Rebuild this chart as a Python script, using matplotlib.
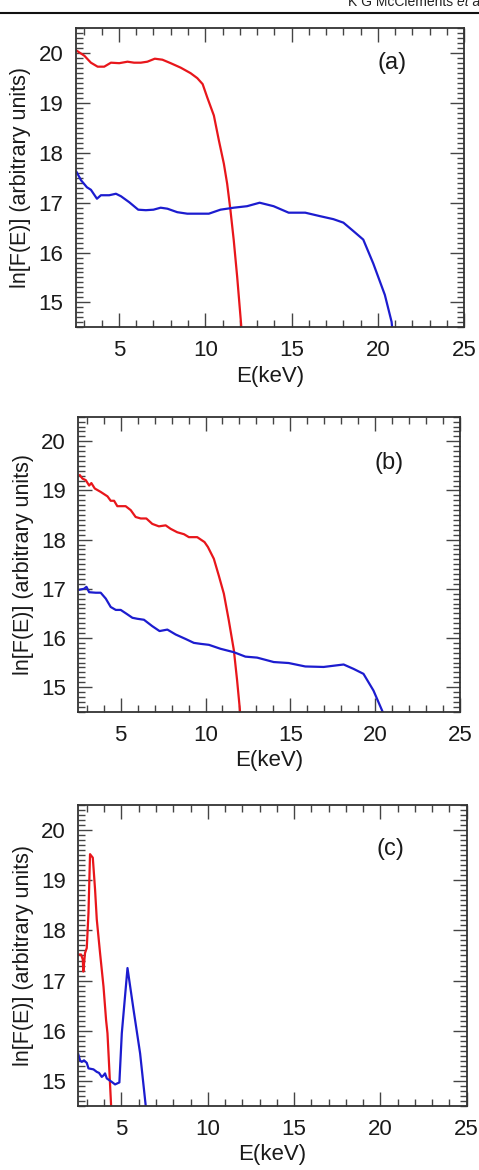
import matplotlib
matplotlib.use("Agg")
import matplotlib.pyplot as plt
from matplotlib.lines import Line2D
from matplotlib.ticker import MultipleLocator

plt.rcParams['font.family'] = ['Liberation Sans', 'DejaVu Sans']

# ---------------- data ----------------
# panel (a)
a_red_E = [2.56, 3.0, 3.38, 3.77, 4.15, 4.54, 5.02, 5.5, 5.88, 6.27, 6.65, 7.08, 7.52, 8.0,
           8.58, 9.15, 9.54, 9.85, 10.12, 10.5, 10.79, 11.08, 11.27, 11.46, 11.65, 11.85, 12.08, 12.1]
a_red_F = [20.05, 19.95, 19.81, 19.73, 19.73, 19.81, 19.8, 19.83, 19.81, 19.81, 19.83, 19.89, 19.87, 19.8,
           19.71, 19.6, 19.5, 19.38, 19.11, 18.75, 18.25, 17.78, 17.38, 16.85, 16.25, 15.51, 14.55, 14.4]
a_blue_E = [2.56, 2.81, 3.15, 3.38, 3.73, 3.96, 4.44, 4.83, 5.12, 5.6, 6.12, 6.56, 7.0, 7.42, 7.81,
            8.38, 8.96, 9.54, 10.21, 10.88, 11.65, 12.42, 13.15, 13.96, 14.83, 15.79, 16.65, 17.42,
            18.0, 18.58, 19.15, 19.73, 20.4, 20.79, 20.85]
a_blue_F = [17.61, 17.45, 17.31, 17.26, 17.08, 17.15, 17.15, 17.18, 17.13, 17.01, 16.86, 16.85, 16.86, 16.9, 16.88,
            16.81, 16.78, 16.78, 16.78, 16.86, 16.9, 16.93, 17.0, 16.93, 16.8, 16.8, 16.73, 16.67,
            16.6, 16.43, 16.26, 15.78, 15.15, 14.61, 14.4]

# panel (b)
b_red_E = [2.59, 2.75, 2.94, 3.14, 3.27, 3.47, 3.82, 4.22, 4.41, 4.61, 4.8, 5.29, 5.59, 5.88, 6.18,
           6.51, 6.86, 7.25, 7.65, 7.94, 8.33, 8.73, 9.02, 9.51, 9.94, 10.14, 10.49, 10.78, 11.08,
           11.37, 11.67, 11.86, 12.02, 12.05]
b_red_F = [19.31, 19.24, 19.21, 19.1, 19.15, 19.04, 18.97, 18.88, 18.79, 18.79, 18.68, 18.68, 18.6, 18.46, 18.43,
           18.43, 18.32, 18.27, 18.29, 18.22, 18.15, 18.11, 18.05, 18.05, 17.95, 17.85, 17.61, 17.27, 16.9,
           16.36, 15.75, 15.14, 14.56, 14.4]
b_blue_E = [2.55, 2.84, 2.98, 3.14, 3.53, 3.82, 4.12, 4.41, 4.71, 5.0, 5.35, 5.69, 5.98, 6.37, 6.86,
            7.29, 7.75, 8.24, 8.82, 9.31, 9.71, 10.2, 10.88, 11.67, 12.35, 13.04, 14.02, 14.9, 15.88,
            16.96, 18.14, 18.73, 19.31, 19.9, 20.45, 20.5]
b_blue_F = [16.98, 17.0, 17.04, 16.93, 16.92, 16.92, 16.8, 16.63, 16.57, 16.57, 16.49, 16.41, 16.39, 16.37, 16.24,
            16.14, 16.17, 16.07, 15.98, 15.9, 15.88, 15.86, 15.78, 15.71, 15.62, 15.6, 15.51, 15.49, 15.42,
            15.41, 15.46, 15.37, 15.27, 14.93, 14.49, 14.4]

# panel (c)
c_red_E = [2.54, 2.66, 2.76, 2.79, 2.89, 2.99, 3.09, 3.18, 3.34, 3.47, 3.57, 3.76, 3.96, 4.11, 4.19, 4.26, 4.4, 4.42]
c_red_F = [17.52, 17.52, 17.42, 17.18, 17.55, 17.65, 18.35, 19.52, 19.45, 18.82, 18.22, 17.55, 16.88, 16.21,
           15.95, 15.48, 14.51, 14.4]
c_blue_E = [2.5, 2.6, 2.7, 2.83, 2.99, 3.09, 3.38, 3.57, 3.7, 3.86, 3.96, 4.05, 4.15, 4.44, 4.63, 4.88,
            5.02, 5.35, 5.7, 6.08, 6.41, 6.43]
c_blue_F = [15.53, 15.41, 15.38, 15.41, 15.36, 15.25, 15.23, 15.18, 15.16, 15.08, 15.11, 15.15, 15.05, 14.98,
            14.93, 14.97, 15.95, 17.25, 16.42, 15.55, 14.49, 14.4]

panel_labels = ['(a)', '(b)', '(c)']
x_major_ticks = [5, 10, 15, 20, 25]
y_major_ticks = [15, 16, 17, 18, 19, 20]
xlim = (2.5, 25)
ylim = (14.5, 20.5)

RED = '#e8161b'
BLUE = '#1c1ccf'

# ---------------- figure ----------------
W, H = 479, 1170
fig = plt.figure(figsize=(W / 100, H / 100), dpi=100)

def px_axes(left, top, right, bottom):
    return [left / W, 1 - bottom / H, (right - left) / W, (bottom - top) / H]

rects = [
    px_axes(75.7, 28.3, 464.3, 327.3),
    px_axes(78.3, 416.7, 460.0, 711.7),
    px_axes(78.3, 805.0, 466.7, 1106.0),
]
label_pos = [(20.8, 19.81), (20.8, 19.55), (20.6, 19.62)]
series = [
    (a_red_E, a_red_F, a_blue_E, a_blue_F),
    (b_red_E, b_red_F, b_blue_E, b_blue_F),
    (c_red_E, c_red_F, c_blue_E, c_blue_F),
]

for rect, (rE, rF, bE, bF), lab, lp in zip(rects, series, panel_labels, label_pos):
    ax = fig.add_axes(rect)
    ax.plot(rE, rF, color=RED, lw=1.6, clip_on=True)
    ax.plot(bE, bF, color=BLUE, lw=1.6, clip_on=True)
    ax.set_xlim(*xlim)
    ax.set_ylim(*ylim)
    ax.set_xticks(x_major_ticks)
    ax.set_yticks(y_major_ticks)
    ax.xaxis.set_minor_locator(MultipleLocator(1))
    ax.yaxis.set_minor_locator(MultipleLocator(0.1))
    ax.tick_params(which='both', direction='in', top=True, right=True,
                   color='#444444', labelsize=16, labelcolor='#1a1a1a')
    ax.tick_params(which='major', length=10, width=1.0)
    ax.tick_params(which='minor', length=5, width=1.0)
    ax.tick_params(axis='x', which='major', pad=9.5)
    ax.tick_params(axis='y', which='major', pad=9)
    for s in ax.spines.values():
        s.set_linewidth(1.3)
        s.set_color('#333333')
    ax.set_xlabel('E(keV)', fontsize=16, color='#1a1a1a', labelpad=3)
    ax.set_ylabel('ln[F(E)] (arbitrary units)', fontsize=15.5, color='#1a1a1a', labelpad=5)
    ax.text(lp[0], lp[1], lab, fontsize=17, ha='center', va='center', color='#1a1a1a')

# header (cut at the top/right edge, as in the reference)
fig.text(348 / W, 1 - 6 / H, 'K G McClements ', fontsize=10, ha='left', va='baseline', color='#222222')
fig.text(457 / W, 1 - 6 / H, 'et al', fontsize=10, ha='left', va='baseline', style='italic', color='#222222')
fig.add_artist(Line2D([0, 1], [1 - 13 / H, 1 - 13 / H], transform=fig.transFigure,
                      color='#111111', lw=1.5))

fig.savefig('out.png', dpi=100)
